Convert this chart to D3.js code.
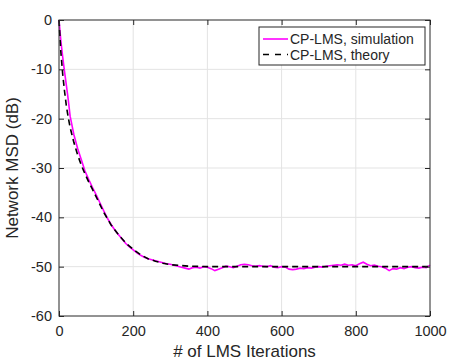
<!DOCTYPE html>
<meta charset="utf-8">
<script src="https://d3js.org/d3.v7.min.js"></script>
<style>
  body { margin: 0; background: #fff; }
  text { font-family: "Liberation Sans", Arial, sans-serif; fill: #262626; }
</style>
<div id="my_dataviz"></div>
<script>
// data
var xTicks = [0, 200, 400, 600, 800, 1000];
var yTicks = [0, -10, -20, -30, -40, -50, -60];

var iterSim = [0, 5, 10, 15, 20, 25, 30, 40, 50, 60, 70, 80, 90, 100, 110, 120, 130, 140, 150, 160, 170, 180, 190, 200,
  210, 220, 230, 240, 250, 260, 270, 280, 290, 300, 310, 320, 330, 340, 350, 360, 370, 380, 390, 400,
  410, 420, 430, 440, 450, 460, 470, 480, 490, 500, 510, 520, 530, 540, 550, 560, 570, 580, 590, 600,
  610, 620, 630, 640, 650, 660, 670, 680, 690, 700, 710, 720, 730, 740, 750, 760, 770, 780, 790, 800,
  810, 820, 830, 840, 850, 860, 870, 880, 890, 900, 910, 920, 930, 940, 950, 960, 970, 980, 990, 1000];
var msdSim = [0, -4.2, -7.5, -10.5, -13.3, -16.2, -19.5, -23.2, -26, -28.3, -30.6, -32.3, -33.9, -35.4, -37, -38.6, -40.1, -41.4, -42.5, -43.5, -44.4, -45.3, -46.0, -46.6,
  -47.2, -47.7, -48.1, -48.4, -48.6, -48.8, -49.0, -49.2, -49.4, -49.5, -49.7, -49.9, -50.1, -50.3, -50.5, -50.2, -50.1, -50.3, -50.0, -50.1,
  -50.4, -50.8, -50.5, -50.2, -49.9, -50.0, -50.2, -49.9, -49.6, -49.5, -49.6, -49.8, -49.9, -49.8, -49.9, -50.0, -49.8, -50.1, -50.2, -50.0,
  -50.1, -50.5, -50.6, -50.5, -50.3, -50.4, -50.2, -50.3, -50.1, -50.0, -50.1, -49.9, -49.8, -49.7, -49.6, -49.7, -49.5, -49.7, -49.6, -49.8,
  -49.4, -49.1, -49.5, -49.8, -49.7, -49.9, -50.0, -50.3, -50.8, -50.4, -50.5, -50.2, -50.4, -50.1, -50.0, -50.2, -50.3, -50.1, -50.2, -49.7];

var iterTheory = [0, 5, 10, 15, 20, 25, 30, 40, 50, 60, 70, 80, 90, 100, 120, 140, 160, 180, 200, 220, 240, 260, 280, 300, 350, 400, 500, 600, 700, 800, 900, 1000];
var msdTheory = [0, -6.5, -11, -14.5, -17.5, -19.8, -21.8, -24.8, -27.3, -29.4, -31.2, -32.8, -34.3, -35.8, -38.9, -41.5, -43.5, -45.2, -46.5, -47.6, -48.4, -48.9, -49.3, -49.6, -49.9, -50.0, -50.0, -50.0, -50.0, -50.0, -50.0, -50.0];

var seriesNames = ["CP-LMS, simulation", "CP-LMS, theory"];

var margin = {top: 20, right: 19, bottom: 44, left: 59},
    W = 449, H = 360,
    width = W - margin.left - margin.right,
    height = H - margin.top - margin.bottom;

var svg = d3.select("#my_dataviz")
  .append("svg")
    .attr("width", W)
    .attr("height", H)
  .append("g")
    .attr("transform", "translate(" + margin.left + "," + margin.top + ")");

var x = d3.scaleLinear().domain([0, 1000]).range([0, width]);
var y = d3.scaleLinear().domain([-60, 0]).range([height, 0]);

// grid
svg.append("g").selectAll("line").data(xTicks.slice(1, -1)).enter().append("line")
  .attr("x1", d => x(d)).attr("x2", d => x(d)).attr("y1", 0).attr("y2", height)
  .attr("stroke", "#e3e3e3").attr("stroke-width", 1);
svg.append("g").selectAll("line").data(yTicks.slice(1, -1)).enter().append("line")
  .attr("y1", d => y(d)).attr("y2", d => y(d)).attr("x1", 0).attr("x2", width)
  .attr("stroke", "#e3e3e3").attr("stroke-width", 1);

// curves
var line = d3.line().x(d => x(d[0])).y(d => y(d[1]));
svg.append("path")
  .datum(iterSim.map((d, i) => [d, msdSim[i]]))
  .attr("d", line).attr("fill", "none")
  .attr("stroke", "#ff00ff").attr("stroke-width", 1.6);
svg.append("path")
  .datum(iterTheory.map((d, i) => [d, msdTheory[i]]))
  .attr("d", line).attr("fill", "none")
  .attr("stroke", "#000").attr("stroke-width", 1.6).attr("stroke-dasharray", "6,4");

// axes (ticks inside, box)
var axisColor = "#262626";
var plain = d => String(d);
function styleAxis(g) {
  g.select(".domain").remove();
  g.selectAll("line").attr("stroke", axisColor);
  g.selectAll("text").attr("font-size", "14.5px").attr("fill", axisColor)
    .style("font-family", "'Liberation Sans', Arial, sans-serif");
}
svg.append("g").attr("transform", "translate(0," + height + ")")
  .call(d3.axisBottom(x).tickValues(xTicks).tickSize(-5).tickPadding(10).tickFormat(plain))
  .call(styleAxis);
svg.append("g")
  .call(d3.axisLeft(y).tickValues(yTicks).tickSize(-5).tickPadding(7).tickFormat(plain))
  .call(styleAxis);
svg.append("g").call(d3.axisTop(x).tickValues(xTicks).tickSize(-5).tickFormat(""))
  .call(styleAxis);
svg.append("g").attr("transform", "translate(" + width + ",0)")
  .call(d3.axisRight(y).tickValues(yTicks).tickSize(-5).tickFormat(""))
  .call(styleAxis);
svg.append("rect").attr("width", width).attr("height", height)
  .attr("fill", "none").attr("stroke", axisColor).attr("stroke-width", 1);

// labels
svg.append("text")
  .attr("x", width / 2).attr("y", height + 41)
  .attr("text-anchor", "middle").attr("font-size", "17px")
  .text("# of LMS Iterations");
svg.append("text")
  .attr("transform", "translate(-41," + (height / 2) + ") rotate(-90)")
  .attr("text-anchor", "middle").attr("font-size", "17px")
  .text("Network MSD (dB)");

// legend
var leg = svg.append("g").attr("transform", "translate(" + (259 - margin.left) + "," + (27 - margin.top) + ")");
leg.append("rect").attr("width", 166).attr("height", 38)
  .attr("fill", "#fff").attr("stroke", axisColor).attr("stroke-width", 1);
[0, 1].forEach(function (i) {
  var ly = 12 + i * 15.5;
  leg.append("line").attr("x1", 4).attr("x2", 29).attr("y1", ly).attr("y2", ly)
    .attr("stroke", i === 0 ? "#ff00ff" : "#000").attr("stroke-width", 1.6)
    .attr("stroke-dasharray", i === 0 ? null : "6,6");
  leg.append("text").attr("x", 31).attr("y", ly + 5).attr("font-size", "14px")
    .text(seriesNames[i]);
});
</script>
